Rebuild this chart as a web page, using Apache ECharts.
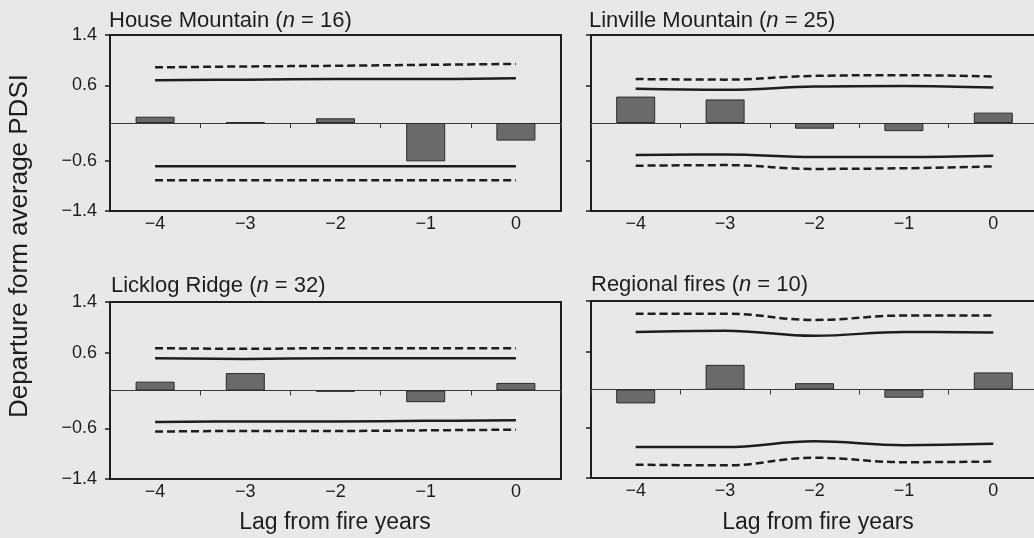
<!DOCTYPE html>
<html>
<head>
<meta charset="utf-8">
<script src="https://cdn.jsdelivr.net/npm/echarts@6/dist/echarts.min.js"></script>
<style>
html,body{margin:0;padding:0;background:#e8e8e8;}
#chart{width:1034px;height:538px;}
</style>
</head>
<body>
<div id="chart"></div>
<script>
// ---- data ----
const categories = ['\u22124', '\u22123', '\u22122', '\u22121', '0'];
const yTickValues = [-1.4, -0.6, 0.6, 1.4];
const panelNames = ['House Mountain', 'Linville Mountain', 'Licklog Ridge', 'Regional fires'];
const panelN = [16, 25, 32, 10];
const xAxisTitle = 'Lag from fire years';
const yAxisTitle = 'Departure form average PDSI';

const houseBars     = [0.10, 0.01, 0.075, -0.61, -0.28];
const houseUpperSolid  = [0.68, 0.69, 0.70, 0.70, 0.71];
const houseUpperDashed = [0.885, 0.90, 0.91, 0.925, 0.94];
const houseLowerSolid  = [-0.69, -0.69, -0.69, -0.69, -0.69];
const houseLowerDashed = [-0.91, -0.91, -0.91, -0.91, -0.91];

const linvilleBars     = [0.42, 0.375, -0.09, -0.13, 0.165];
const linvilleUpperSolid  = [0.545, 0.53, 0.58, 0.59, 0.565];
const linvilleUpperDashed = [0.70, 0.69, 0.75, 0.76, 0.74];
const linvilleLowerSolid  = [-0.51, -0.50, -0.54, -0.54, -0.52];
const linvilleLowerDashed = [-0.68, -0.67, -0.73, -0.72, -0.69];

const licklogBars     = [0.14, 0.275, -0.02, -0.185, 0.12];
const licklogUpperSolid  = [0.51, 0.50, 0.51, 0.51, 0.51];
const licklogUpperDashed = [0.67, 0.66, 0.67, 0.67, 0.67];
const licklogLowerSolid  = [-0.50, -0.49, -0.49, -0.48, -0.47];
const licklogLowerDashed = [-0.65, -0.64, -0.64, -0.63, -0.62];

const regionalBars     = [-0.22, 0.39, 0.10, -0.13, 0.27];
const regionalUpperSolid  = [0.91, 0.93, 0.85, 0.91, 0.90];
const regionalUpperDashed = [1.20, 1.20, 1.10, 1.17, 1.17];
const regionalLowerSolid  = [-0.91, -0.91, -0.82, -0.88, -0.86];
const regionalLowerDashed = [-1.19, -1.20, -1.08, -1.15, -1.14];

const panels = [
  {bars: houseBars, us: houseUpperSolid, ud: houseUpperDashed, ls: houseLowerSolid, ld: houseLowerDashed},
  {bars: linvilleBars, us: linvilleUpperSolid, ud: linvilleUpperDashed, ls: linvilleLowerSolid, ld: linvilleLowerDashed},
  {bars: licklogBars, us: licklogUpperSolid, ud: licklogUpperDashed, ls: licklogLowerSolid, ld: licklogLowerDashed},
  {bars: regionalBars, us: regionalUpperSolid, ud: regionalUpperDashed, ls: regionalLowerSolid, ld: regionalLowerDashed}
];

// ---- layout ----
const FONT = 'Liberation Sans, Arial, Helvetica, sans-serif';
const INK = '#1e1e1e';
const grids = [
  {left: 110, top: 35, width: 451, height: 176},
  {left: 591, top: 35, width: 447, height: 176},
  {left: 110, top: 302, width: 451, height: 177},
  {left: 591, top: 301, width: 447, height: 177}
];
const titlePos = [[109, 21], [589, 21], [111, 286], [591, 285]];

const option = {
  backgroundColor: '#e8e8e8',
  animation: false,
  grid: grids.map(g => Object.assign({show: true, borderColor: INK, borderWidth: 2, backgroundColor: 'transparent', containLabel: false, outerBoundsMode: 'none'}, g)),
  xAxis: [],
  yAxis: [],
  series: [],
  graphic: []
};

grids.forEach((g, i) => {
  const leftCol = (i % 2 === 0);
  // bottom axis: labels only
  option.xAxis.push({
    type: 'category', gridIndex: i, data: categories, position: 'bottom',
    axisLine: {show: false, onZero: false}, axisTick: {show: false},
    axisLabel: {color: INK, fontSize: 18, fontFamily: FONT, margin: 4}
  });
  // zero axis: line + boundary ticks
  option.xAxis.push({
    type: 'category', gridIndex: i, data: categories, position: 'top',
    axisLine: {show: true, onZero: true, lineStyle: {color: '#3a3a3a', width: 1}},
    axisTick: {show: true, inside: true, length: 5, lineStyle: {color: '#3a3a3a', width: 1}},
    axisLabel: {show: false}
  });
  option.yAxis.push({
    type: 'value', gridIndex: i, min: -1.4, max: 1.4,
    axisLine: {show: false},
    splitLine: {show: false},
    axisTick: {show: true, customValues: yTickValues, length: 5, lineStyle: {color: INK, width: 1.5}},
    axisLabel: {show: leftCol, customValues: yTickValues, color: INK, fontSize: 18, fontFamily: FONT, margin: 13,
      formatter: v => (v < 0 ? '\u2212' : '') + Math.abs(v).toFixed(1)}
  });
  const p = panels[i];
  option.series.push({
    type: 'bar', xAxisIndex: i * 2, yAxisIndex: i, data: p.bars, barWidth: 39,
    itemStyle: {color: '#6a6a6a', borderColor: '#2a2a2a', borderWidth: 1}, z: 2
  });
  const lineDefs = [[p.us, 'solid'], [p.ud, [8, 4]], [p.ls, 'solid'], [p.ld, [8, 4]]];
  lineDefs.forEach(([d, t]) => {
    option.series.push({
      type: 'line', xAxisIndex: i * 2, yAxisIndex: i, data: d, symbol: 'none', smooth: 0.4,
      lineStyle: {color: INK, width: 2.5, type: t}, z: 3
    });
  });
  option.graphic.push({
    type: 'text', x: titlePos[i][0], y: titlePos[i][1],
    style: {
      text: '{a|' + panelNames[i] + ' (}{b|n}{a| = ' + panelN[i] + ')}',
      verticalAlign: 'middle', align: 'left',
      rich: {
        a: {fontSize: 22, fontFamily: FONT, fill: INK, color: INK},
        b: {fontSize: 22, fontFamily: FONT, fontStyle: 'italic', fill: INK, color: INK}
      }
    }
  });
});

option.graphic.push({
  type: 'text', x: 20, y: 246, rotation: Math.PI / 2,
  style: {text: yAxisTitle, fontSize: 26, fontFamily: FONT, fill: INK, align: 'center', verticalAlign: 'middle'}
});
option.graphic.push({
  type: 'text', x: 335, y: 523,
  style: {text: xAxisTitle, fontSize: 23, fontFamily: FONT, fill: INK, align: 'center', verticalAlign: 'middle'}
});
option.graphic.push({
  type: 'text', x: 818, y: 523,
  style: {text: xAxisTitle, fontSize: 23, fontFamily: FONT, fill: INK, align: 'center', verticalAlign: 'middle'}
});

const chart = echarts.init(document.getElementById('chart'), null, {renderer: 'canvas'});
chart.setOption(option);
</script>
</body>
</html>
